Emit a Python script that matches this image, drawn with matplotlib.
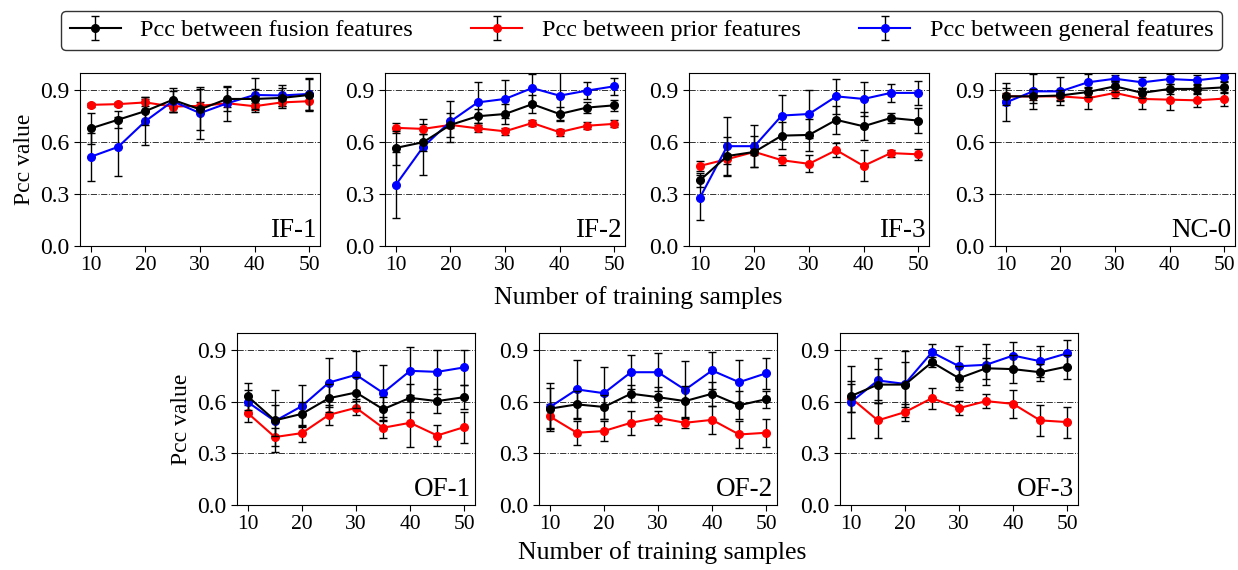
import numpy as np
import matplotlib
matplotlib.use('Agg')
import matplotlib.pyplot as plt

plt.rcParams['font.family'] = ['Liberation Serif', 'DejaVu Serif']
plt.rcParams['mathtext.fontset'] = 'stix'

samples = [10, 15, 20, 25, 30, 35, 40, 45, 50]
panel_names = ['IF-1', 'IF-2', 'IF-3', 'NC-0', 'OF-1', 'OF-2', 'OF-3']

# mean Pcc values per panel (fusion / prior / general)
fusion_mean = [
    [0.68, 0.73, 0.78, 0.845, 0.79, 0.85, 0.85, 0.856, 0.873],
    [0.567, 0.60, 0.70, 0.75, 0.763, 0.82, 0.763, 0.80, 0.813],
    [0.38, 0.52, 0.544, 0.638, 0.642, 0.729, 0.692, 0.74, 0.725],
    [0.865, 0.865, 0.87, 0.89, 0.923, 0.885, 0.908, 0.908, 0.917],
    [0.631, 0.492, 0.53, 0.621, 0.654, 0.557, 0.623, 0.604, 0.627],
    [0.56, 0.585, 0.57, 0.647, 0.627, 0.604, 0.647, 0.58, 0.615],
    [0.633, 0.70, 0.70, 0.83, 0.737, 0.795, 0.79, 0.772, 0.805],
]
fusion_err = [
    [0.09, 0.05, 0.08, 0.07, 0.12, 0.07, 0.06, 0.06, 0.09],
    [0.10, 0.05, 0.07, 0.04, 0.06, 0.05, 0.04, 0.03, 0.03],
    [0.04, 0.11, 0.09, 0.08, 0.09, 0.08, 0.08, 0.03, 0.07],
    [0.05, 0.04, 0.03, 0.03, 0.03, 0.03, 0.03, 0.03, 0.03],
    [0.08, 0.09, 0.07, 0.08, 0.09, 0.07, 0.08, 0.07, 0.07],
    [0.12, 0.08, 0.07, 0.05, 0.06, 0.09, 0.07, 0.08, 0.05],
    [0.09, 0.09, 0.13, 0.03, 0.07, 0.06, 0.08, 0.05, 0.07],
]
prior_mean = [
    [0.816, 0.82, 0.83, 0.806, 0.81, 0.825, 0.808, 0.83, 0.837],
    [0.683, 0.677, 0.70, 0.68, 0.663, 0.711, 0.658, 0.695, 0.706],
    [0.463, 0.502, 0.544, 0.496, 0.475, 0.554, 0.463, 0.537, 0.53],
    [0.865, 0.865, 0.865, 0.854, 0.885, 0.85, 0.846, 0.842, 0.852],
    [0.534, 0.395, 0.418, 0.524, 0.565, 0.449, 0.478, 0.404, 0.453],
    [0.515, 0.42, 0.43, 0.478, 0.507, 0.478, 0.495, 0.41, 0.42],
    [0.623, 0.492, 0.54, 0.621, 0.563, 0.604, 0.588, 0.492, 0.482],
]
prior_err = [
    [0.01, 0.01, 0.02, 0.03, 0.02, 0.02, 0.02, 0.02, 0.05],
    [0.03, 0.03, 0.02, 0.02, 0.02, 0.02, 0.02, 0.02, 0.02],
    [0.03, 0.03, 0.02, 0.03, 0.05, 0.04, 0.09, 0.02, 0.03],
    [0.02, 0.02, 0.02, 0.06, 0.03, 0.06, 0.06, 0.04, 0.04],
    [0.05, 0.05, 0.05, 0.06, 0.04, 0.06, 0.14, 0.06, 0.09],
    [0.07, 0.07, 0.06, 0.07, 0.04, 0.03, 0.08, 0.08, 0.08],
    [0.08, 0.10, 0.05, 0.06, 0.04, 0.04, 0.08, 0.09, 0.09],
]
general_mean = [
    [0.516, 0.573, 0.722, 0.837, 0.768, 0.825, 0.873, 0.87, 0.879],
    [0.354, 0.573, 0.72, 0.83, 0.85, 0.913, 0.869, 0.898, 0.923],
    [0.279, 0.577, 0.577, 0.754, 0.763, 0.865, 0.85, 0.885, 0.885],
    [0.83, 0.894, 0.894, 0.946, 0.967, 0.946, 0.965, 0.958, 0.975],
    [0.598, 0.488, 0.575, 0.712, 0.757, 0.652, 0.78, 0.774, 0.80],
    [0.569, 0.672, 0.65, 0.772, 0.772, 0.67, 0.782, 0.714, 0.766],
    [0.598, 0.724, 0.704, 0.888, 0.807, 0.815, 0.869, 0.836, 0.882],
]
general_err = [
    [0.14, 0.17, 0.14, 0.06, 0.15, 0.10, 0.10, 0.06, 0.09],
    [0.19, 0.16, 0.12, 0.12, 0.11, 0.08, 0.14, 0.05, 0.05],
    [0.13, 0.17, 0.12, 0.12, 0.14, 0.10, 0.10, 0.05, 0.07],
    [0.11, 0.10, 0.08, 0.05, 0.02, 0.03, 0.03, 0.03, 0.02],
    [0.07, 0.18, 0.12, 0.14, 0.14, 0.16, 0.14, 0.13, 0.10],
    [0.14, 0.17, 0.15, 0.10, 0.11, 0.17, 0.11, 0.13, 0.09],
    [0.21, 0.13, 0.19, 0.05, 0.12, 0.12, 0.08, 0.09, 0.08],
]

labels = ['Pcc between fusion features', 'Pcc between prior features',
          'Pcc between general features']
colors = ['k', 'r', 'b']

W, H = 1238, 570
fig = plt.figure(figsize=(W / 100, H / 100), dpi=100)

# axes boxes in pixels: left, top, width, height
boxes = [(80, 73, 240, 173), (385, 73, 240, 173), (689, 73, 240, 173), (995, 73, 240, 173),
         (237, 333, 238, 172), (539, 333, 238, 172), (840, 333, 238, 172)]

axes = []
for i, (l, t, w, h) in enumerate(boxes):
    ax = fig.add_axes([l / W, (H - t - h) / H, w / W, h / H])
    axes.append(ax)
    series = [(fusion_mean[i], fusion_err[i]), (prior_mean[i], prior_err[i]),
              (general_mean[i], general_err[i])]
    # draw fusion last so it sits on top like the original
    for j in [1, 2, 0]:
        m, e = series[j]
        ax.errorbar(samples, m, yerr=e, color=colors[j], ecolor='k', elinewidth=1,
                    capsize=3, capthick=1, marker='o', markersize=5.5, linewidth=1.5,
                    label=labels[j], zorder=3 if j == 0 else 2)
    ax.set_xlim(8, 52)
    ax.set_ylim(0, 1.0)
    ax.set_yticks([0.0, 0.3, 0.6, 0.9])
    ax.set_xticks([10, 20, 30, 40, 50])
    ax.yaxis.grid(True, linestyle='-.', color='k', linewidth=0.7, alpha=0.8)
    ax.tick_params(direction='out', length=4)
    ax.tick_params(axis='y', labelsize=17)
    ax.tick_params(axis='x', labelsize=15.5)
    ax.text(0.985, 0.02, panel_names[i], transform=ax.transAxes, ha='right',
            va='bottom', fontsize=19.5)

axes[0].set_ylabel('Pcc value', fontsize=17, labelpad=4)
axes[4].set_ylabel('Pcc value', fontsize=17, labelpad=4)
fig.text(638 / W, 1 - 298 / H, 'Number of training samples', ha='center', va='center', fontsize=18.5)
fig.text(662 / W, 1 - 553 / H, 'Number of training samples', ha='center', va='center', fontsize=18.5)

h, lab = axes[0].get_legend_handles_labels()
order = [lab.index(x) for x in labels]
leg = fig.legend([h[k] for k in order], labels, loc='lower left', ncol=3,
                 bbox_to_anchor=(61 / W, 1 - 50 / H, 1161 / W, 40 / H), mode='expand',
                 borderaxespad=0, fontsize=17.5, frameon=True, fancybox=True,
                 edgecolor='k', handlelength=2.1, handletextpad=0.8, borderpad=0.35)
leg.get_frame().set_linewidth(1.0)

fig.savefig('out.png', dpi=100)
